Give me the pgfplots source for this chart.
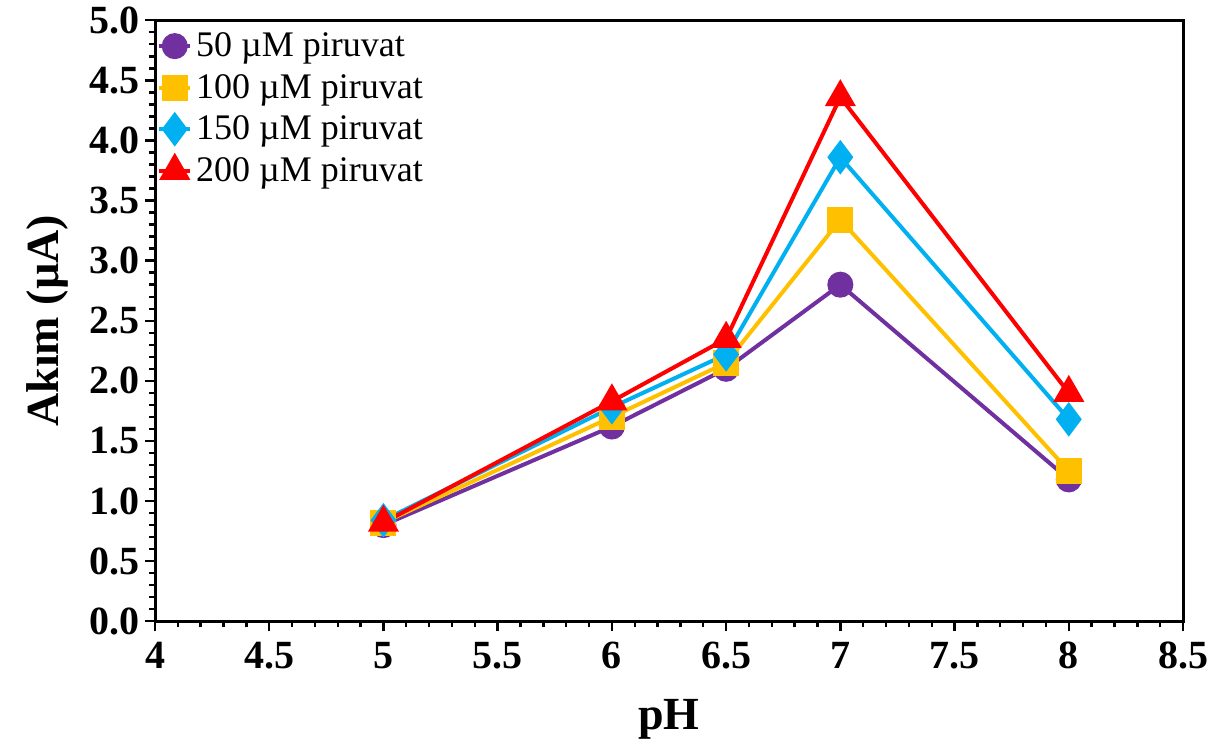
\documentclass[border=0pt]{standalone}
\usepackage{fontspec}
\setmainfont{Liberation Serif}
\usepackage{pgfplots}
\pgfplotsset{compat=1.18}
\definecolor{cpurple}{HTML}{7030A0}
\definecolor{cyellow}{HTML}{FFC000}
\definecolor{cblue}{HTML}{00B0F0}
\definecolor{cred}{HTML}{FF0000}
\begin{document}
\begin{tikzpicture}
\begin{axis}[
  scale only axis,
  width=514pt, height=300.5pt,
  xmin=4, xmax=8.5, ymin=0, ymax=5,
  xtick={4,4.5,...,8.5},
  ytick={0,0.5,...,5},
  minor x tick num=4,
  minor y tick num=4,
  tick align=outside,
  major tick length=5pt,
  minor tick length=3pt,
  xtick pos=bottom, ytick pos=left,
  axis line style={line width=1.5pt},
  every tick/.style={black, line width=1.2pt},
  /pgf/number format/assume math mode=true,
  tick label style={font=\bfseries\fontsize{20}{24}\selectfont},
  yticklabel style={/pgf/number format/fixed, /pgf/number format/fixed zerofill, /pgf/number format/precision=1, xshift=1pt},
  xticklabel style={/pgf/number format/fixed, yshift=-2pt},
  xlabel={pH},
  ylabel={Akım (µA)},
  label style={font=\bfseries\fontsize{23}{27}\selectfont},
  xlabel style={yshift=-8pt},
  ylabel style={yshift=4pt},
  legend style={draw=none, fill=none, at={(axis cs:4,4.95)}, anchor=north west,
    font=\fontsize{18}{20}\selectfont, row sep=3.3pt, inner sep=1pt,
    /tikz/every even column/.append style={column sep=3pt}},
  legend cell align=left,
  legend image code/.code={\draw[mark repeat=2, mark phase=2, #1] plot coordinates {(0cm,0cm) (0.27cm,0cm) (0.54cm,0cm)};},
  clip=false,
]
\addplot[cpurple, line width=2pt, mark=*, mark size=5.5pt, mark options={solid, fill=cpurple}]
  coordinates {(5,0.80) (6,1.62) (6.5,2.10) (7,2.80) (8,1.18)};
\addlegendentry{50 µM piruvat}
\addplot[cyellow, line width=2pt, mark=square*, mark size=5.5pt, mark options={solid, fill=cyellow}]
  coordinates {(5,0.82) (6,1.70) (6.5,2.15) (7,3.34) (8,1.25)};
\addlegendentry{100 µM piruvat}
\addplot[cblue, line width=2pt, mark=diamond*, mark size=7pt, mark options={solid, fill=cblue}]
  coordinates {(5,0.84) (6,1.78) (6.5,2.22) (7,3.86) (8,1.68)};
\addlegendentry{150 µM piruvat}
\addplot[cred, line width=2pt, mark=triangle*, mark size=7pt, mark options={solid, fill=cred}]
  coordinates {(5,0.82) (6,1.83) (6.5,2.35) (7,4.36) (8,1.90)};
\addlegendentry{200 µM piruvat}
\end{axis}
\path (-77.5pt,-65pt) rectangle (531.5pt,309.5pt);
\end{tikzpicture}
\end{document}
